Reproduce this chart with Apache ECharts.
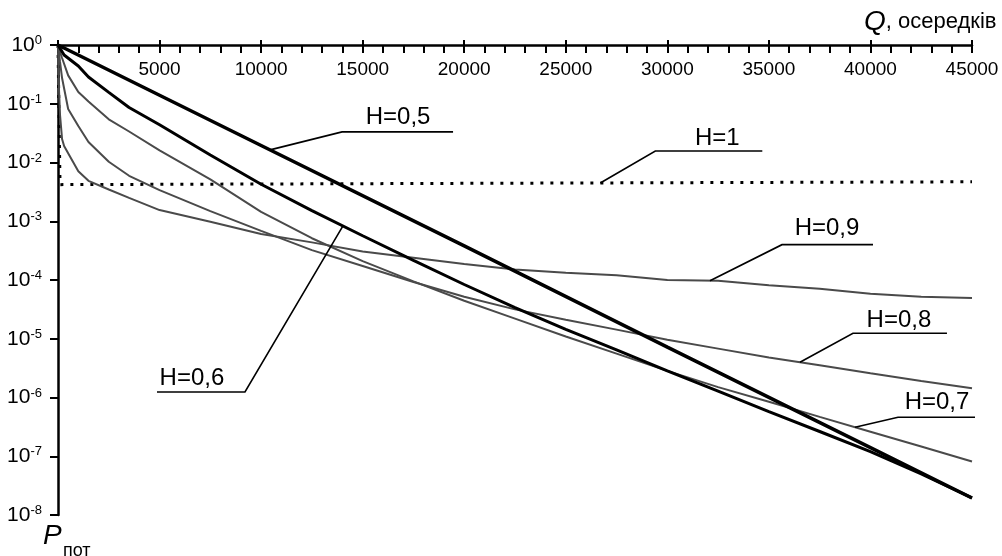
<!DOCTYPE html>
<html><head><meta charset="utf-8">
<script src="https://cdn.jsdelivr.net/npm/echarts@6/dist/echarts.min.js"></script>
<style>html,body{margin:0;padding:0;background:#fff}#c{width:1002px;height:556px}</style>
</head><body><div id="c"></div>
<script>
// ---- data (Q, cells) vs P_pot ----
const Q_TAIL = [5000,7500,10000,12500,15000,17500,20000,22500,25000,27500,30000,32500,35000,37500,40000,42500,45000];

const H05_Q = [0,10000,20000,30000,40000,45000];
const H05_P = [1,1.95e-2,3.8e-4,7.2e-6,1.4e-7,1.95e-8];

const H06_Q = [0,300,1000,1500,2500,3500].concat(Q_TAIL);
const H06_P = [1,0.676,0.439,0.285,0.156,0.0863,0.0438,0.0134,4.27e-3,1.52e-3,5.67e-4,2.16e-4,8.38e-5,3.39e-5,1.45e-5,6.44e-6,2.83e-6,1.28e-6,5.75e-7,2.64e-7,1.20e-7,4.99e-8,1.95e-8];

const H07_Q = [0,100,200,500,1000,1500,2500,3500].concat(Q_TAIL);
const H07_P = [1,0.76,0.601,0.304,0.158,0.109,0.0543,0.0337,0.0161,5.16e-3,1.44e-3,5.14e-4,2.10e-4,9.46e-5,4.43e-5,2.20e-5,1.09e-5,5.58e-6,2.84e-6,1.50e-6,8.49e-7,4.68e-7,2.62e-7,1.47e-7,8.14e-8];

const H08_Q = [0,100,200,500,1000,1500,2500,3500].concat(Q_TAIL);
const H08_P = [1,0.514,0.274,0.0814,0.0418,0.0223,0.0103,5.94e-3,3.38e-3,1.49e-3,6.87e-4,3.23e-4,1.73e-4,9.25e-5,5.20e-5,3.16e-5,2.11e-5,1.43e-5,9.59e-6,6.79e-6,4.78e-6,3.55e-6,2.58e-6,1.91e-6,1.44e-6];

const H09_Q = [0,50,100,200,300,500,1000,1500,2500,3500].concat(Q_TAIL);
const H09_P = [1,0.171,0.0644,0.0251,0.0191,0.0144,7.08e-3,4.88e-3,3.47e-3,2.50e-3,1.55e-3,9.82e-4,6.07e-4,4.37e-4,3.05e-4,2.40e-4,1.88e-4,1.51e-4,1.33e-4,1.21e-4,1.0e-4,9.69e-5,8.15e-5,7.08e-5,5.82e-5,5.20e-5,4.94e-5];

const H1_Q = [0,100,45000];
const H1_P = [1,4.2e-3,4.7e-3];

const X_TICKS = [5000,10000,15000,20000,25000,30000,35000,40000,45000];

const SERIES_NAMES = ['H=0,5','H=0,6','H=0,7','H=0,8','H=0,9','H=1'];

// ---- chart ----
const FONT = '"Liberation Sans", Arial, sans-serif';
function zip(q,p){return q.map((v,i)=>[v,p[i]]);}

const chart = echarts.init(document.getElementById('c'), null, {renderer:'canvas'});

const seriesStyles = [
  {color:'#000', width:3.5, type:'solid'},
  {color:'#000', width:3, type:'solid'},
  {color:'#4a4a4a', width:2, type:'solid'},
  {color:'#4a4a4a', width:2, type:'solid'},
  {color:'#4a4a4a', width:2, type:'solid'},
  {color:'#000', width:3, type:[3,7]}
];
const seriesData = [zip(H05_Q,H05_P),zip(H06_Q,H06_P),zip(H07_Q,H07_P),zip(H08_Q,H08_P),zip(H09_Q,H09_P),zip(H1_Q,H1_P)];

chart.setOption({
  animation:false,
  backgroundColor:'#fff',
  grid:{left:58, right:30, top:45, bottom:41, containLabel:false},
  xAxis:[{
    type:'value', position:'top', min:0, max:45000, interval:5000,
    axisLine:{show:true, onZero:false, lineStyle:{color:'#000', width:2.5}},
    axisTick:{show:true, inside:true, length:8, lineStyle:{color:'#000', width:2}},
    axisLabel:{inside:true, margin:15, color:'#000', fontSize:19, fontFamily:FONT,
      formatter:v=> X_TICKS.indexOf(v)>=0 ? String(v) : ''},
    splitLine:{show:false}
  },{
    type:'value', position:'top', min:0, max:45000, interval:1000, gridIndex:0,
    axisLine:{show:false, onZero:false},
    axisTick:{show:true, inside:true, length:8, lineStyle:{color:'#000', width:2}},
    axisLabel:{show:false}, splitLine:{show:false}
  },{
    type:'value', position:'top', min:0, max:45000, interval:5000, gridIndex:0,
    axisLine:{show:false, onZero:false},
    axisTick:{show:true, inside:false, length:5, lineStyle:{color:'#000', width:2}},
    axisLabel:{show:false}, splitLine:{show:false}
  }],
  yAxis:{
    type:'log', logBase:10, min:1e-8, max:1,
    axisLine:{show:true, onZero:false, lineStyle:{color:'#000', width:2.5}},
    axisTick:{show:true, length:8, lineStyle:{color:'#000', width:2}},
    axisLabel:{margin:16, color:'#000', fontFamily:FONT,
      formatter:v=>{ const e=Math.round(Math.log10(v)); return '{b|10}{s|'+e+'}'; },
      rich:{b:{fontSize:21, fontFamily:FONT, color:'#000', lineHeight:22},
            s:{fontSize:13, fontFamily:FONT, color:'#000', verticalAlign:'top', lineHeight:14}}},
    splitLine:{show:false}
  },
  series: seriesData.map((d,i)=>({
    name:SERIES_NAMES[i], type:'line', data:d, showSymbol:false, symbol:'none',
    smooth:false, xAxisIndex:0, yAxisIndex:0,
    lineStyle:{color:seriesStyles[i].color, width:seriesStyles[i].width, type:seriesStyles[i].type},
    z: 5-i
  }))
});

// ---- annotations (leader lines anchored to curves) ----
function interpLog(qs, ps, q){
  for (let i=0;i<qs.length-1;i++){
    if (q>=qs[i] && q<=qs[i+1]){
      const t=(q-qs[i])/(qs[i+1]-qs[i]);
      return Math.pow(10, Math.log10(ps[i])*(1-t)+Math.log10(ps[i+1])*t);
    }
  }
  return ps[ps.length-1];
}
const ANNOTATION_LAYOUT = [
 {text:'H=0,5', qs:H05_Q, ps:H05_P, q:10440, ex:72, ey:-18, len:111, tx:56, ty:-15},
 {text:'H=1',   qs:H1_Q,  ps:H1_P,  q:26700, ex:55, ey:-32, len:107, tx:62, ty:-13},
 {text:'H=0,9', qs:H09_Q, ps:H09_P, q:32100, ex:72, ey:-36, len:91,  tx:45, ty:-16},
 {text:'H=0,8', qs:H08_Q, ps:H08_P, q:36530, ex:53, ey:-29, len:94,  tx:46, ty:-13},
 {text:'H=0,7', qs:H07_Q, ps:H07_P, q:39240, ex:43, ey:-10, len:77,  tx:39, ty:-15},
 {text:'H=0,6', qs:H06_Q, ps:H06_P, q:14030, ex:-98, ey:166, len:-88, tx:-53, ty:-14}
];
const graphics = [];
ANNOTATION_LAYOUT.forEach(a=>{
  const p = interpLog(a.qs, a.ps, a.q);
  const pt = chart.convertToPixel({xAxisIndex:0, yAxisIndex:0}, [a.q, p]);
  const ex = pt[0]+a.ex, ey = pt[1]+a.ey;
  graphics.push({type:'polyline', silent:true, z:100,
    shape:{points:[[pt[0],pt[1]],[ex,ey],[ex+a.len,ey]]},
    style:{stroke:'#000', lineWidth:1.6, fill:null}});
  graphics.push({type:'text', silent:true, z:100, x:ex+a.tx, y:ey+a.ty,
    style:{text:a.text, fill:'#000', font:'24px '+FONT, align:'center', verticalAlign:'middle'}});
});
// axis names
graphics.push({type:'text', silent:true, z:100, x:864, y:22,
  style:{text:'{q|Q}{t|, осередків}', verticalAlign:'middle', align:'left',
    rich:{q:{font:'italic 28px '+FONT, fill:'#000'}, t:{font:'22px '+FONT, fill:'#000'}}}});
graphics.push({type:'text', silent:true, z:100, x:43, y:536,
  style:{text:'P', fill:'#000', font:'italic 28px '+FONT, align:'left', verticalAlign:'middle'}});
graphics.push({type:'text', silent:true, z:100, x:63, y:551,
  style:{text:'пот', fill:'#000', font:'18px '+FONT, align:'left', verticalAlign:'middle'}});
chart.setOption({graphic:graphics});
</script></body></html>
